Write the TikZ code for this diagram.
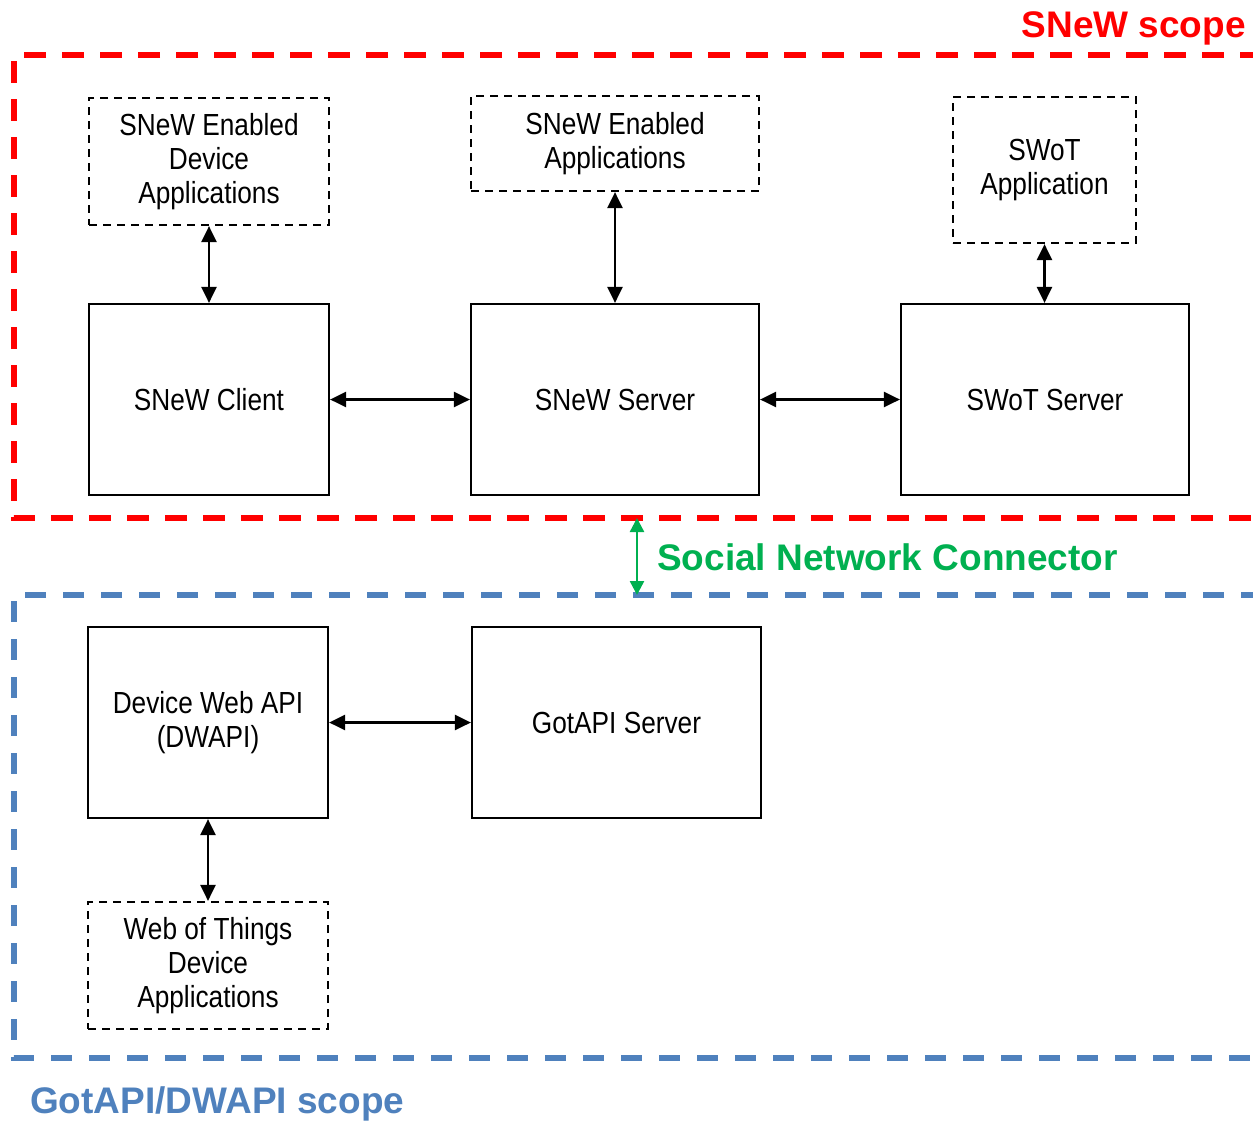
\documentclass[tikz,border=0pt]{standalone}
\usepackage{fontspec}
\setmainfont{Liberation Sans}
\newfontfamily\narrowfont[FakeStretch=0.86]{Liberation Sans}
\usetikzlibrary{arrows.meta}
\definecolor{snewred}{RGB}{255,0,0}
\definecolor{gotblue}{RGB}{79,129,189}
\definecolor{sncgreen}{RGB}{0,176,80}
\tikzset{
  box/.style={draw=black, line width=2.2pt, align=center, inner sep=0pt,
    font=\narrowfont\fontsize{30.5}{34}\selectfont},
  dbox/.style={box, dash pattern=on 8pt off 6pt},
  link/.style={line width=2.4pt, {Triangle[length=16pt,width=15pt]}-{Triangle[length=16pt,width=15pt]}},
  scopelabel/.style={font=\bfseries\fontsize{37}{40}\selectfont, inner sep=0pt},
}
\begin{document}
\begin{tikzpicture}[x=1pt,y=-1pt]
\useasboundingbox (0,0) rectangle (1253,1120);
\begin{scope}
\clip (0,0) rectangle (1253,1120);
% scopes
\draw[snewred, line width=5.5pt, dash pattern=on 22pt off 16pt] (1300,55) -- (14,55) -- (14,518) -- (1300,518);
\draw[gotblue, line width=5.5pt, dash pattern=on 21pt off 17pt] (1300,595) -- (14,595) -- (14,1058) -- (1300,1058);
\end{scope}
\node[scopelabel, text=snewred, anchor=base east] (snewlbl) at (1246,37) {SNeW scope};
\node[scopelabel, text=gotblue, anchor=base west] (gotlbl) at (30,1113) {GotAPI/DWAPI scope};
\node[scopelabel, text=sncgreen, anchor=base west] (snclbl) at (657,570) {Social Network Connector};

% SNeW boxes
\node[dbox, minimum width=240pt, minimum height=127pt] (sdev) at (209,161.5) {SNeW Enabled\\Device\\Applications};
\node[box, minimum width=240pt, minimum height=191pt] (sclient) at (209,399.5) {SNeW Client};
\node[dbox, minimum width=288pt, minimum height=95pt] (sapp) at (615,143.5) {SNeW Enabled\\Applications};
\node[box, minimum width=288pt, minimum height=191pt] (sserver) at (615,399.5) {SNeW Server};
\node[dbox, minimum width=183pt, minimum height=146pt] (swapp) at (1044.5,170) {SWoT\\Application};
\node[box, minimum width=288pt, minimum height=191pt] (swserver) at (1045,399.5) {SWoT Server};

% GotAPI boxes
\node[box, minimum width=240pt, minimum height=191pt] (dwapi) at (208,722.5) {Device Web API\\(DWAPI)};
\node[box, minimum width=289pt, minimum height=191pt] (gotapi) at (616.5,722.5) {GotAPI Server};
\node[dbox, minimum width=240pt, minimum height=127pt] (wot) at (208,965.5) {Web of Things\\Device\\Applications};

% connectors
\draw[link] (sdev.south) -- (sclient.north);
\draw[link] (sapp.south) -- (sserver.north);
\draw[link] (swapp.south) -- (swapp.south |- swserver.north);
\draw[link] (sclient.east) -- (sserver.west);
\draw[link] (sserver.east) -- (swserver.west);
\draw[link] (dwapi.east) -- (gotapi.west);
\draw[link] (dwapi.south) -- (wot.north);

\coordinate (gtop) at (637,518);
\coordinate (gbot) at (637,595);
\draw[sncgreen, line width=2.4pt, {Triangle[length=14pt,width=14pt]}-{Triangle[length=14pt,width=14pt]}] (gtop) -- (gbot);
\end{tikzpicture}
\end{document}
